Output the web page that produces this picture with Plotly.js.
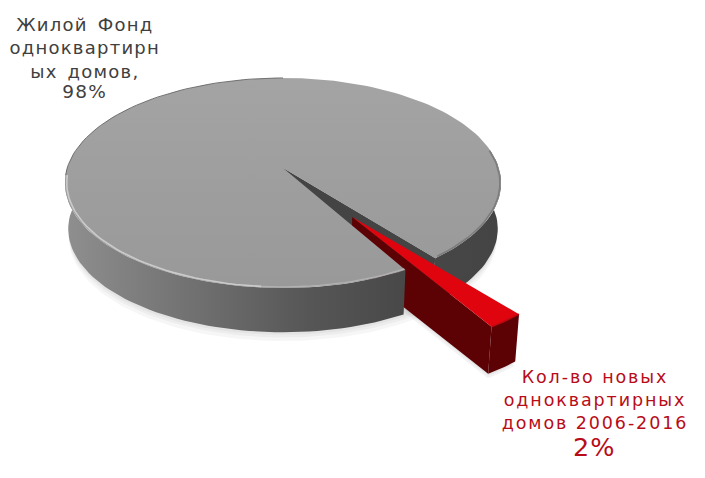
<!DOCTYPE html>
<html><head><meta charset="utf-8">
<script src="https://cdn.plot.ly/plotly-3.0.1.min.js"></script>
<style>
html,body{margin:0;padding:0;background:#fff}
.annotation[data-index="0"] .annotation-text{letter-spacing:1.25px;word-spacing:3px}
.annotation[data-index="1"] .annotation-text{letter-spacing:1.25px}
.annotation[data-index="2"] .annotation-text{letter-spacing:1.9px}
.annotation[data-index="3"] .annotation-text{letter-spacing:1px}
</style></head><body><div id="chart" style="width:705px;height:478px"></div>
<script>
const categories = ["Жилой Фонд<br>одноквартирн<br>ых домов,", "Кол-во новых<br>одноквартирных<br>домов 2006-2016"];
const values = [97.6, 2.4];
const colorsDark = "#444444";

// disc projection (unit disc -> page axes)
const cx=283, cy=168, R=215.8, S=102.9, k=1/7, H=46, taper=.015;
const P=(u,v,z=0)=>{const w=1-k*v,s=1-taper*z;return [cx+R*u/w*s, cy+S*v/w*s+H*z];};
const rad=d=>d*Math.PI/180;
const span=values[1]/(values[0]+values[1])*360;
const gapMid=55.7, gapSpan=span*1.04, a0=gapMid-gapSpan/2, a1=gapMid+gapSpan/2;
const redMid=54.7, b0=redMid-span/2, b1=redMid+span/2, redR=.955, redZ=1.08;
const ex=.537, offU=ex*Math.cos(rad(56)), offV=ex*Math.sin(rad(56));
function arc(from,to,z=0,r=1,ou=0,ov=0){const n=Math.max(2,Math.ceil(Math.abs(to-from)/2));const o=[];
  for(let i=0;i<=n;i++){const t=rad(from+(to-from)*i/n);o.push(P(ou+r*Math.cos(t),ov+r*Math.sin(t),z));}return o;}
const poly=(pts,extra)=>Object.assign({type:'scatter',mode:'lines',x:pts.map(p=>p[0]),y:pts.map(p=>p[1]),fill:'toself',line:{width:0},hoverinfo:'skip'},extra);
const stroke=(pts,color,width)=>({type:'scatter',mode:'lines',x:pts.map(p=>p[0]),y:pts.map(p=>p[1]),line:{color,width},hoverinfo:'skip'});

const sideGrad={type:'horizontal',start:66,stop:500,colorscale:[[0,'#8f8f8f'],[.2,'#7a7a7a'],[.55,'#575757'],[.78,'#484848'],[1,'#444444']]};
const shadow=z=>poly([...arc(0,180,z,1.0)],{fillcolor:'rgba(0,0,0,0.035)'});
const tip=P(offU,offV,0), tipB=P(offU,offV,redZ);
const rA=arc(b0,b1,0,redR,offU,offV), rB=arc(b0,b1,redZ,redR,offU,offV);
const redShadow=z=>poly([P(offU,offV,z),...arc(b0,b1,z,redR,offU,offV)],{fillcolor:'rgba(0,0,0,0.05)'});
const traces=[
  shadow(1.2),shadow(1.12),shadow(1.06),redShadow(1.18),redShadow(1.12),
  // far side of the wall, right of the gap
  poly([...arc(-10,a0,0),...arc(a0,-10,1)],{fillcolor:'#444',fillgradient:sideGrad}),
  // inner wall of the gap
  poly([P(0,0,0),P(Math.cos(rad(a0)),Math.sin(rad(a0)),0),P(Math.cos(rad(a0)),Math.sin(rad(a0)),1),P(0,0,1)],{fillcolor:colorsDark}),
  poly([P(0,0,0),...arc(a0,a1,0),P(0,0,0)],{fillcolor:colorsDark}),
  // exploded slice
  poly([tip,rA[rA.length-1],rB[rB.length-1],tipB],{fillcolor:'#5c0205'}),
  poly([...rA,...rB.slice().reverse()],{fillcolor:'#5c0205'}),
  poly([tip,...rA],{fillcolor:'#e0040e'}),
  stroke(rA,'#b8080e',1.5),
  // near side of the wall, left of the gap
  poly([...arc(a1,185,0),...arc(185,a1,1)],{fillcolor:'#666',fillgradient:sideGrad}),
  // top of the large slice
  poly([P(0,0,0),...arc(a1,a0+360,0),P(0,0,0)],{fillcolor:'#a0a0a0',fillgradient:{type:'vertical',colorscale:[[0,'#999999'],[.5,'#9e9e9e'],[1,'#a4a4a4']]}}),
  stroke(arc(a1,95,0,.992),'#b2b2b2',1.4),
  stroke(arc(95,176,0,.992),'#cbcbcb',1.6),
  stroke(arc(176,270,0,1),'#666666',.9),
  stroke(arc(-10,a0-1,0,.995),'#7d7d7d',1.6)
];
const annotations=[
  {text:categories[0],x:85,y:47.5,font:{size:18,color:'#404040'}},
  {text:Math.round(values[0])+'%',x:84,y:91,font:{size:18.5,color:'#404040'}},
  {text:categories[1],x:595,y:399.5,font:{size:17.5,color:'#b80c18'}},
  {text:Math.round(values[1])+'%',x:594,y:447,font:{size:25.5,color:'#b80c18'}}
].map(a=>Object.assign({xref:'x',yref:'y',showarrow:false,align:'center',xanchor:'center',yanchor:'middle'},a,{font:Object.assign({family:'DejaVu Sans'},a.font)}));

Plotly.newPlot('chart',traces,{
  width:705,height:478,margin:{l:0,r:0,t:0,b:0},showlegend:false,
  paper_bgcolor:'#fff',plot_bgcolor:'#fff',
  xaxis:{range:[0,705],visible:false,fixedrange:true},
  yaxis:{range:[478,0],visible:false,fixedrange:true},
  annotations
},{displayModeBar:false,staticPlot:true});
</script></body></html>
